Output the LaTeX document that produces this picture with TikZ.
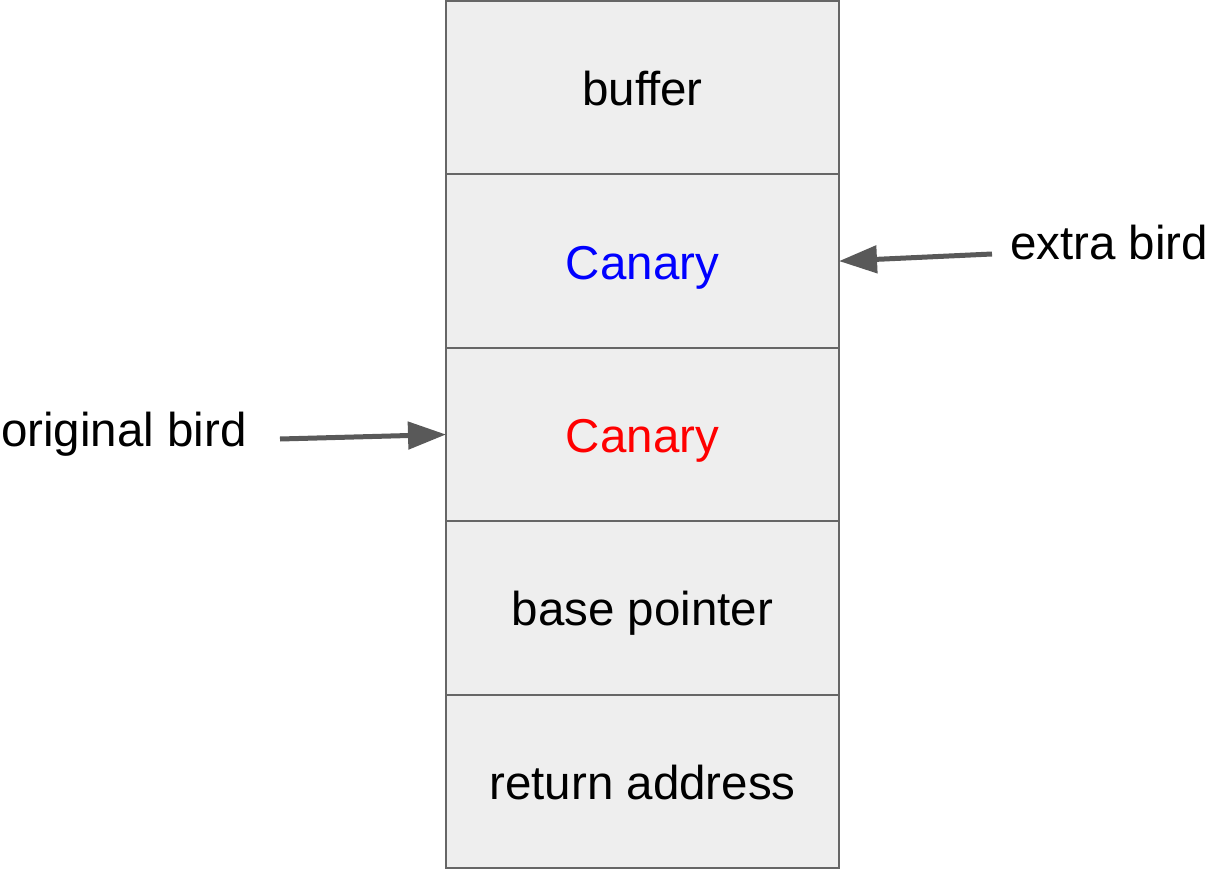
\documentclass[tikz,border=0pt]{standalone}
\usepackage{fontspec}
\setmainfont{Liberation Sans}
\usetikzlibrary{arrows.meta}
\definecolor{cellfill}{HTML}{EEEEEE}
\definecolor{cellline}{HTML}{666666}
\definecolor{arrowgray}{HTML}{595959}
\begin{document}
\begin{tikzpicture}[x=1pt,y=-1pt,
  cell/.style={draw=cellline, line width=2pt, fill=cellfill, minimum width=393pt,
    minimum height=173.4pt, inner sep=0pt, outer sep=0pt, text height=36pt, text depth=0pt,
    font=\fontsize{47.5}{57}\selectfont},
  lbl/.style={font=\fontsize{47.5}{57}\selectfont, inner sep=0pt},
  pointer/.style={draw=arrowgray, line width=5pt, -{Triangle[length=38pt,width=27pt]}}]
  \useasboundingbox (0,0) rectangle (1212,869);
  % stack frame, top to bottom
  \node[cell] (buf)  at (642.5,87.7)  {buffer};
  \node[cell] (can1) at (642.5,261.1) {\textcolor{blue}{Canary}};
  \node[cell] (can2) at (642.5,434.5) {\textcolor{red}{Canary}};
  \node[cell] (bp)   at (642.5,607.9) {base pointer};
  \node[cell] (ret)  at (642.5,781.3) {return address};
  % labels and their pointers
  \node[lbl, anchor=base west] (extra) at (1010,259.5) {extra bird};
  \node[lbl, anchor=base west] (orig)  at (1,446.5)    {original bird};
  \coordinate (extrastart) at (992,254);
  \coordinate (origstart)  at (280,439);
  \draw[pointer] (extrastart) -- (can1.east);
  \draw[pointer] (origstart) -- (can2.west);
\end{tikzpicture}
\end{document}
